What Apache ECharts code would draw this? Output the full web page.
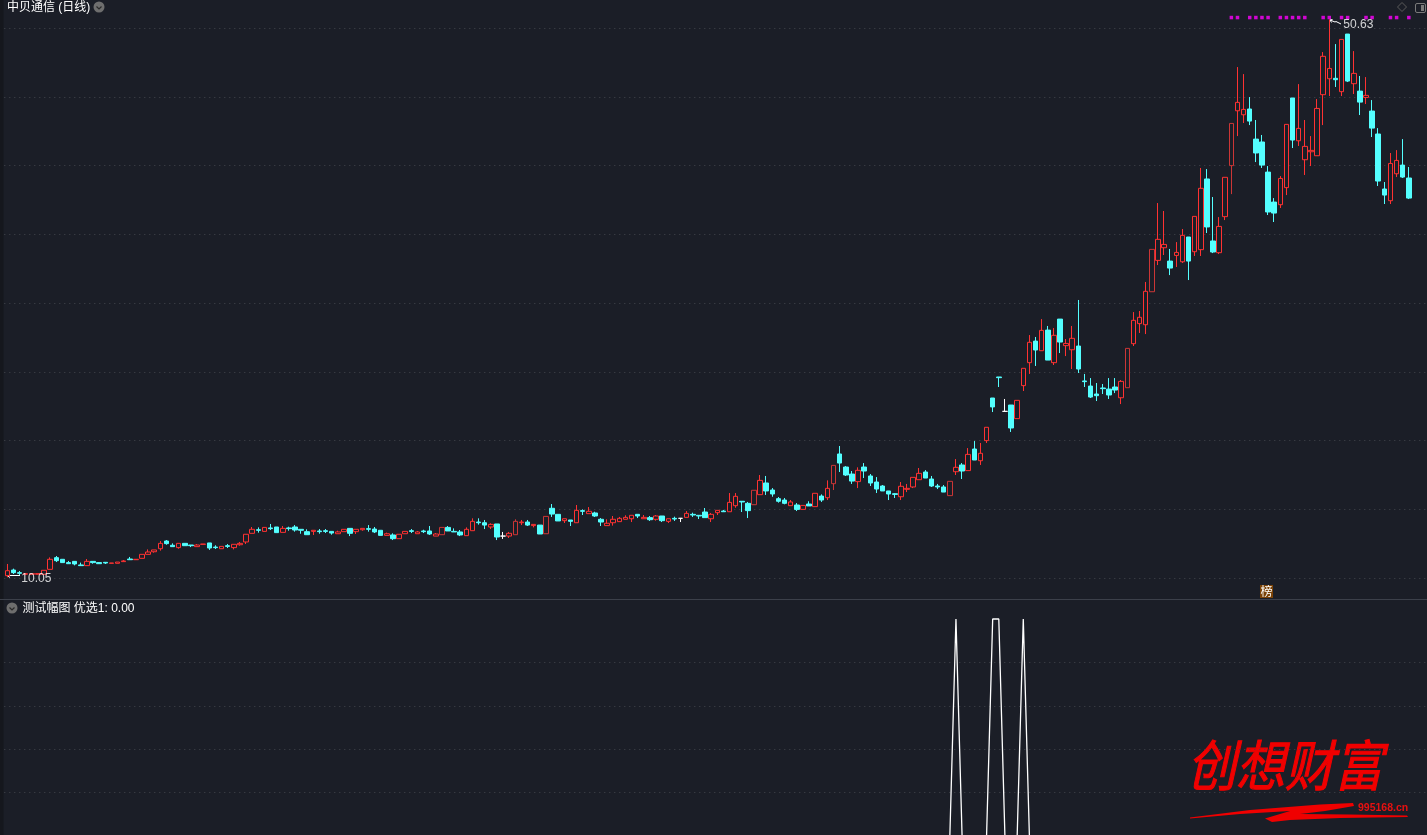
<!DOCTYPE html>
<html><head><meta charset="utf-8">
<style>html,body{margin:0;padding:0;background:#1b1e27;overflow:hidden}#c{width:1427px;height:835px}</style>
<script src="https://cdn.jsdelivr.net/npm/echarts@6/dist/echarts.min.js"></script>
</head><body><div id="c"></div>
<script>
const opens=[
10.17,10.58,10.39,10.27,10.27,10.27,10.27,10.63,11.48,11.36,
11.12,11.21,10.95,10.90,11.21,11.12,11.14,11.07,11.07,11.19,
11.38,11.33,11.43,11.72,11.91,12.13,12.69,12.38,12.21,12.52,
12.40,12.28,12.45,12.55,12.25,12.13,12.35,12.21,12.42,12.62,
13.25,13.51,13.39,13.64,13.71,13.32,13.64,13.71,13.54,13.37,
13.39,13.42,13.44,13.39,13.22,13.37,13.61,13.37,13.51,13.59,
13.56,13.47,13.10,13.13,12.86,13.22,13.44,13.22,13.42,13.42,
13.05,13.15,13.68,13.39,13.35,13.08,13.44,14.07,14.02,13.71,
13.93,13.05,13.05,13.15,14.02,14.07,13.81,13.85,13.22,15.07,
14.63,14.17,14.22,14.02,14.90,14.68,14.73,14.27,13.81,14.02,
14.10,14.27,14.31,14.63,14.31,14.39,14.27,14.51,14.12,14.34,
14.34,14.41,14.63,14.56,14.80,14.31,14.75,14.87,14.82,15.26,
15.58,15.43,15.33,16.06,16.91,16.40,15.77,15.67,15.26,15.31,
14.99,15.38,15.19,15.96,15.84,16.86,19.02,18.07,17.56,17.01,
18.07,17.42,16.98,16.69,16.33,16.13,15.91,16.45,16.62,17.15,
17.71,17.20,16.69,16.62,15.99,17.73,18.22,17.81,19.38,18.53,
19.99,23.09,24.62,22.12,22.58,21.59,23.99,25.66,27.23,26.53,
28.03,25.66,28.83,26.90,26.60,26.87,24.33,23.96,23.38,23.82,
23.74,23.89,23.11,23.84,27.04,28.50,28.42,30.82,33.10,34.02,
33.05,33.46,33.00,34.80,33.73,33.88,39.02,34.51,33.66,36.28,
39.99,43.98,43.69,44.11,41.92,41.71,39.52,37.34,37.15,38.39,
44.91,41.80,40.42,41.00,40.71,45.15,46.31,46.34,45.37,49.56,
45.95,45.41,44.95,43.96,42.29,38.29,37.44,39.40,40.03,39.09];
const closes=[
10.53,10.39,10.34,10.32,10.32,10.32,10.56,11.36,11.26,11.12,
11.04,11.02,10.90,11.21,11.12,11.04,11.09,11.09,11.16,11.24,
11.33,11.36,11.72,11.89,12.04,12.52,12.50,12.28,12.52,12.35,
12.35,12.40,12.47,12.18,12.21,12.30,12.30,12.45,12.52,13.18,
13.54,13.47,13.68,13.59,13.30,13.61,13.59,13.49,13.47,13.15,
13.47,13.37,13.39,13.27,13.35,13.54,13.25,13.54,13.61,13.54,
13.35,13.10,13.22,12.86,13.18,13.39,13.39,13.35,13.37,13.20,
13.20,13.68,13.42,13.35,13.13,13.54,14.12,14.02,13.85,13.90,
12.98,13.05,13.25,14.12,14.07,13.85,13.90,13.20,14.48,14.65,
14.15,14.31,14.12,14.92,14.85,14.85,14.51,14.07,13.98,14.27,
14.34,14.41,14.56,14.51,14.41,14.24,14.51,14.17,14.31,14.29,
14.34,14.70,14.58,14.51,14.39,14.63,14.92,14.82,15.50,15.94,
15.53,14.90,16.38,17.10,16.33,16.11,15.58,15.43,15.53,14.99,
15.28,15.24,16.16,15.67,16.52,18.19,18.36,17.49,17.05,17.83,
17.78,16.91,16.47,16.33,16.11,16.08,16.67,16.52,17.32,17.61,
17.27,16.69,16.62,16.25,17.03,18.05,17.78,18.99,18.58,19.07,
20.96,22.44,24.57,22.12,20.91,22.92,25.25,27.14,26.58,28.01,
25.85,27.65,27.16,27.06,27.43,25.20,24.28,23.16,23.26,23.77,
23.31,23.67,24.30,26.70,28.74,28.96,30.85,33.90,34.63,34.26,
32.54,33.68,34.92,33.05,36.30,38.34,35.53,33.71,35.57,39.14,
43.06,44.59,44.08,43.23,40.91,40.03,36.62,36.54,39.06,42.99,
41.85,42.70,41.39,41.10,44.15,47.94,47.06,46.24,49.17,46.14,
46.70,44.61,45.10,42.72,38.87,37.85,40.15,40.37,39.16,37.63];
const lows=[
10.05,10.29,10.22,10.25,10.27,10.27,10.27,10.63,11.16,11.12,
11.04,10.92,10.90,10.90,11.04,11.04,11.02,11.07,11.07,11.19,
11.33,11.33,11.43,11.72,11.84,11.99,12.42,12.28,12.13,12.35,
12.25,12.28,12.45,12.04,12.11,12.13,12.18,12.08,12.35,12.47,
13.25,13.30,13.39,13.49,13.30,13.32,13.44,13.37,13.22,13.15,
13.13,13.22,13.27,13.15,13.22,13.37,13.05,13.20,13.44,13.37,
13.27,13.10,13.10,12.76,12.86,13.22,13.27,13.22,13.27,13.13,
13.05,13.15,13.42,13.35,13.05,13.08,13.44,13.88,13.56,13.56,
12.76,12.84,12.91,13.15,13.85,13.78,13.68,13.20,13.22,14.44,
14.15,14.00,13.78,14.02,14.58,14.68,14.44,13.78,13.81,13.81,
14.10,14.27,14.07,14.36,14.31,14.15,14.17,14.07,14.00,14.15,
14.07,14.41,14.44,14.29,14.39,14.07,14.58,14.82,14.82,15.11,
14.80,14.36,15.33,16.06,16.04,15.91,15.48,15.36,15.26,14.87,
14.99,15.24,15.19,15.53,15.67,16.40,17.71,17.42,16.84,16.54,
17.27,16.69,16.18,16.33,15.67,15.82,15.67,16.25,16.54,17.15,
17.27,16.62,16.47,16.25,15.99,17.49,17.20,17.81,18.58,18.22,
19.82,22.07,23.89,22.12,20.62,21.59,23.60,24.84,25.42,26.53,
25.85,25.49,26.36,26.14,25.20,24.91,23.89,23.09,22.87,23.38,
23.02,23.45,22.65,23.84,26.87,27.82,27.74,30.82,32.76,33.49,
32.03,32.62,32.91,31.67,33.42,33.42,35.09,33.63,33.56,36.03,
37.92,42.14,43.09,42.94,40.25,39.82,36.40,35.89,36.91,37.85,
41.27,41.42,39.31,39.96,40.71,42.94,45.05,45.71,45.05,46.07,
45.20,43.67,44.47,42.07,38.51,37.20,37.20,39.16,39.09,37.56];
const highs=[
11.02,10.68,10.51,10.36,10.32,10.32,10.56,11.50,11.60,11.36,
11.24,11.21,11.12,11.38,11.21,11.16,11.14,11.09,11.16,11.31,
11.53,11.36,11.72,12.08,12.04,12.69,12.76,12.52,12.52,12.52,
12.40,12.47,12.47,12.55,12.38,12.30,12.47,12.45,12.62,13.18,
13.71,13.68,13.68,13.93,13.71,13.78,13.73,13.85,13.54,13.54,
13.47,13.56,13.56,13.39,13.44,13.54,13.61,13.54,13.61,13.85,
13.71,13.47,13.30,13.25,13.18,13.39,13.56,13.42,13.51,13.78,
13.27,13.68,13.78,13.61,13.49,13.68,14.34,14.34,14.22,13.98,
13.93,13.35,13.35,14.27,14.22,14.22,13.90,13.85,14.48,15.38,
14.63,14.31,14.22,15.31,14.99,15.16,14.82,14.36,14.27,14.51,
14.44,14.56,14.56,14.63,14.58,14.51,14.58,14.51,14.31,14.46,
14.34,14.87,14.75,14.56,15.09,14.73,14.92,14.95,16.18,16.18,
15.58,15.53,16.38,17.49,17.42,16.54,15.89,15.82,15.67,15.45,
15.28,15.58,16.16,16.08,17.10,18.19,19.60,18.14,17.78,18.05,
18.36,17.56,17.34,16.76,16.33,16.18,16.98,16.84,17.32,18.00,
17.85,17.42,16.84,16.76,17.03,18.65,18.36,19.45,19.96,19.82,
20.96,23.09,24.62,23.02,22.58,22.92,25.25,27.67,27.53,28.83,
28.33,28.18,28.83,27.38,28.33,30.22,24.84,24.54,24.18,24.11,
24.54,24.54,24.40,26.70,29.34,29.42,31.53,33.90,37.27,36.69,
33.93,34.43,35.38,34.80,36.30,39.82,39.74,37.71,36.25,39.14,
43.06,47.16,46.65,44.98,43.31,42.22,39.96,37.63,39.23,42.99,
44.91,45.92,43.31,42.14,44.83,48.25,50.63,48.83,49.17,49.56,
48.32,46.51,46.43,44.76,42.72,38.80,40.91,41.12,41.92,39.89];
const dimmedDays=[71,83,88,122,135,154,183,187,200];
const signalDays=[155,161,162,166];
const markerDays=[200,201,203,204,205,206,208,209,210,211,212,215,216,218,219,222,223,226,227,229];
const markerLevel=50.76;
const slotCount=233;
const categories=Array.from({length:slotCount},(_,i)=>String(i+1));
const signalValues=opens.map((_,i)=>signalDays.includes(i)?1:0);
const title1='中贝通信 (日线)';
const title2='测试幅图 优选1: 0.00';

const BG='#1b1e27',UP='#ff3232',DOWN='#54ffff';
const cjk='"Liberation Sans","Noto Sans CJK SC",sans-serif';
const candleData=opens.map((o,i)=>{
  const item={value:[o,closes[i],lows[i],highs[i]]};
  if(dimmedDays.includes(i))item.itemStyle={borderColor:'#cc3636'};
  return item;
});
const chart=echarts.init(document.getElementById('c'),null,{renderer:'canvas'});
function circle(cx,cy){return [
 {type:'circle',shape:{cx,cy,r:5.5},style:{fill:'#6e6e6e'},silent:true},
 {type:'polyline',shape:{points:[[cx-2.5,cy-0.5],[cx,cy+2],[cx+2.5,cy-0.5]]},style:{stroke:'#2a2a2a',fill:null,lineWidth:1.2},silent:true}];}
function line(points,stroke){return {type:'polyline',shape:{points},style:{stroke:stroke||'#ffffff',fill:null,lineWidth:1},silent:true};}
chart.setOption({
 animation:false,backgroundColor:BG,
 grid:[{left:4.3,top:28,width:1425.96,height:550,outerBoundsMode:'none'},{left:4.3,top:619,width:1425.96,height:217,outerBoundsMode:'none'}],
 xAxis:[
  {type:'category',gridIndex:0,data:categories,show:false,boundaryGap:true},
  {type:'category',gridIndex:1,data:categories,show:false,boundaryGap:true}],
 yAxis:[
  {type:'value',gridIndex:0,min:10,max:50,interval:5,axisLine:{show:false},axisTick:{show:false},axisLabel:{show:false},
   splitLine:{show:true,lineStyle:{type:[1,4],color:'#43464e',width:1}}},
  {type:'value',gridIndex:1,min:0,max:1,interval:0.2,axisLine:{show:false},axisTick:{show:false},axisLabel:{show:false},
   splitLine:{show:true,showMaxLine:false,showMinLine:false,lineStyle:{type:[1,4],color:'#43464e',width:1}}}],
 series:[
  {type:'candlestick',name:'K',xAxisIndex:0,yAxisIndex:0,data:candleData,barWidth:5,clip:false,
   itemStyle:{color:BG,color0:DOWN,borderColor:UP,borderColor0:DOWN,borderColorDoji:'#ffffff',borderWidth:1}},
  {type:'scatter',name:'选股',xAxisIndex:0,yAxisIndex:0,clip:false,symbol:'rect',symbolSize:3.5,
   itemStyle:{color:'#ff00ff'},data:markerDays.map(d=>[d,markerLevel])},
  {type:'scatter',name:'极值',xAxisIndex:0,yAxisIndex:0,clip:false,symbolSize:0,silent:true,
   data:[
    {value:[0,10.05],label:{show:true,position:'right',distance:0,offset:[14,1],formatter:'10.05',color:'#ffffff',fontSize:12,fontFamily:'"Liberation Sans",sans-serif'}},
    {value:[216,50.63],label:{show:true,position:'right',distance:0,offset:[14,5],formatter:'50.63',color:'#ffffff',fontSize:12,fontFamily:'"Liberation Sans",sans-serif'}}
   ]},
  {type:'line',name:'优选1',xAxisIndex:1,yAxisIndex:1,data:signalValues,symbol:'none',clip:false,
   lineStyle:{color:'#ffffff',width:1.3}}
 ],
 graphic:[
  {type:'rect',shape:{x:0,y:0,width:3.5,height:835},style:{fill:'#15171d'},silent:true},
  {type:'rect',shape:{x:0,y:599,width:1427,height:1},style:{fill:'#3c404a'},silent:true},
  {type:'text',x:7,y:2,style:{text:title1,fill:'#ffffff',font:'12px '+cjk},silent:true},
  ...circle(99,7),
  ...circle(12,608),
  {type:'text',x:22.5,y:603,style:{text:title2,fill:'#ffffff',font:'12px '+cjk},silent:true},
  line([[7,575.5],[20,575.5]]),line([[10,573.5],[7,575.5],[10,577.5]]),
  line([[1330,20],[1335,22],[1336,21.5],[1341,24]]),line([[1332.5,19.5],[1330,20],[1331.5,22.5]]),
  {type:'polygon',shape:{points:[[1402,2.5],[1406.5,7],[1402,11.5],[1397.5,7]]},style:{fill:null,stroke:'#5a5a5a',lineWidth:1},silent:true},
  {type:'rect',shape:{x:1415.5,y:3.5,width:10,height:9,r:1.5},style:{fill:null,stroke:'#7a7a7a',lineWidth:1},silent:true},
  {type:'rect',shape:{x:1421,y:5,width:3,height:6},style:{fill:'#7a7a7a'},silent:true},
  {type:'rect',shape:{x:1260,y:585,width:13,height:13},style:{fill:'#7a4206'},silent:true},
  {type:'text',x:1260.5,y:585.5,style:{text:'榜',fill:'#ffffff',font:'12px "Noto Sans CJK SC",sans-serif'},silent:true},
  {type:'text',x:1187,y:738,scaleY:1.12,style:{text:'创想财富',fill:'#f00000',stroke:'#f00000',lineWidth:1,font:'italic 49px "Noto Sans CJK SC",sans-serif'},silent:true},
  {type:'text',x:1358,y:803,style:{text:'995168.cn',fill:'#e81010',font:'bold 10.5px "Liberation Sans",sans-serif'},silent:true},
  {type:'polygon',shape:{points:[[1190,817.5],[1250,810],[1320,804.5],[1353,803],[1354,806],[1325,811],[1300,814],[1350,814.5],[1407,815.5],[1408,817],[1340,818],[1290,820],[1272,822],[1265,818.5],[1290,811],[1240,814],[1190,818.5]]},style:{fill:'#f00000'},silent:true}
 ]
});
</script></body></html>
